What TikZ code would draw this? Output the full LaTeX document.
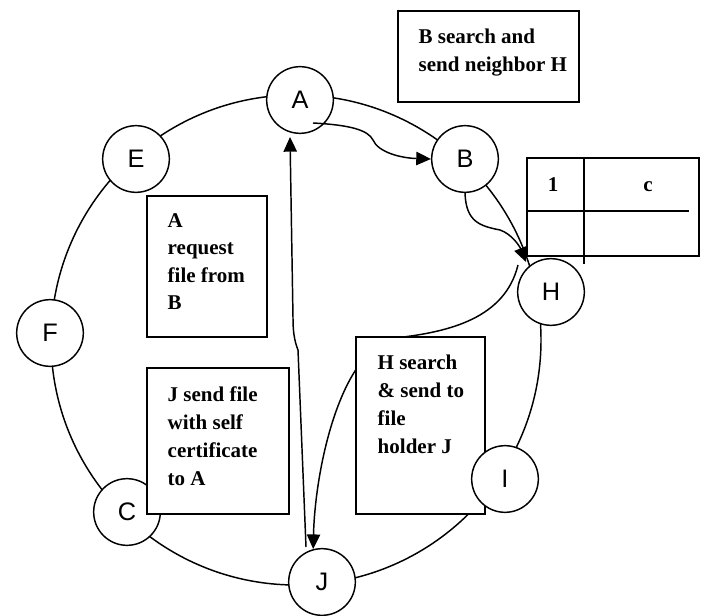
\documentclass[tikz,border=0pt]{standalone}
\usepackage{fontspec}
\setmainfont{Liberation Serif}
\newfontfamily\peerfont{Liberation Sans}
\usetikzlibrary{arrows.meta}
\begin{document}
\begin{tikzpicture}[x=0.75pt,y=-0.75pt,line width=1.1pt,
  peer/.style={circle,draw,fill=white,minimum size=50pt,inner sep=0pt,
    font=\peerfont\fontsize{19}{22}\selectfont},
  box/.style={rectangle,draw,fill=white,inner sep=0pt},
  note/.style={anchor=north west,inner sep=0pt,align=left,
    font=\bfseries\fontsize{15.75}{21}\selectfont},
  cell/.style={anchor=base,inner sep=0pt,font=\bfseries\fontsize{15.75}{21}\selectfont},
  flow/.style={-{Triangle[length=11pt,width=10pt]}}]
\useasboundingbox (0,0) rectangle (706,616);

% the ring of peers
\draw (296,340) circle[radius=183.75pt];

\node[peer] (A) at (300,100) {A};
\node[peer] (B) at (465,159) {B};
\node[peer] (H) at (551,292) {H};
\node[peer] (J) at (322,582) {J};
\node[peer] (C) at (127,512) {C};
\node[peer] (F) at (50,333) {F};
\node[peer] (E) at (136,159) {E};

% message flow
\coordinate (a0) at (313,123);
\coordinate (hin) at (526,262);
\coordinate (h0) at (518,265);
\coordinate (j0) at (306,547);
\coordinate (a1) at (290,137);

\draw[flow] (a0) .. controls (350,125) and (368,130) .. (373,140)
  .. controls (378,152) and (400,158) .. (B.west);
\draw[flow] (B.south) .. controls (466,222) and (480,226) .. (500,230)
  .. controls (512,234) and (520,247) .. (hin);
\draw[flow] (h0) .. controls (505,318) and (450,332) .. (395,338)
  .. controls (340,350) and (315,470) .. (J.105);
\draw[flow] (j0) -- (298,350) .. controls (294,340) and (293,330) .. (293,318) -- (a1);

% step descriptions
\node[box,minimum width=135.75pt,minimum height=68.25pt] (bs) at (488.5,56.5) {};
\node[note] (bst) at (418,28) {B search and\\send neighbor H};

\node[box,minimum width=90pt,minimum height=105.75pt] (ar) at (207,266.5) {};
\node[note,font=\bfseries\fontsize{15.75}{20.5}\selectfont] (art) at (167,213) {A\\request\\file from\\B};

\node[box,minimum width=106.5pt,minimum height=109.5pt] (js) at (218,441) {};
\node[note] (jst) at (167,386) {J send file\\with self\\certificate\\to A};

\node[box,minimum width=96.75pt,minimum height=132.75pt] (hs) at (420.5,425.5) {};
\node[note] (hst) at (377,354) {H search\\\& send to\\file\\holder J};

\node[peer] (I) at (505,479) {I};

% neighbour table
\node[box,minimum width=129pt,minimum height=73.5pt] (tb) at (613,207) {};
\draw (584,158) -- (584,264);
\draw (527,211) -- (689,211);
\node[cell] (t1) at (553,192) {1};
\node[cell] (tc) at (648,192) {c};
\end{tikzpicture}
\end{document}
